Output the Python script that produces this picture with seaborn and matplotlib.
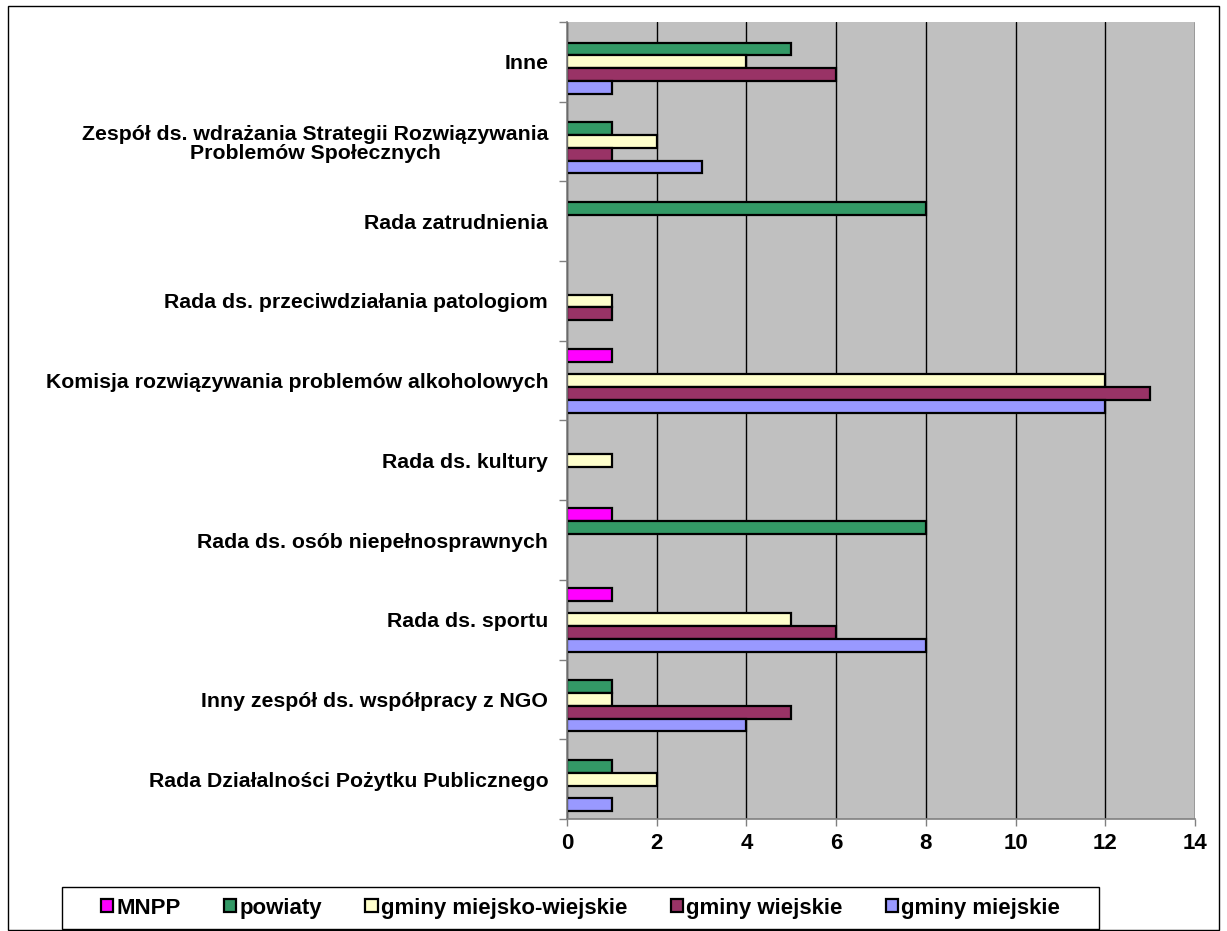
import numpy as np
import pandas as pd
import seaborn as sns
import matplotlib.pyplot as plt
from matplotlib.patches import Rectangle, Patch

categories = [
    "Inne",
    "Zespół ds. wdrażania Strategii Rozwiązywania\nProblemów Społecznych",
    "Rada zatrudnienia",
    "Rada ds. przeciwdziałania patologiom",
    "Komisja rozwiązywania problemów alkoholowych",
    "Rada ds. kultury",
    "Rada ds. osób niepełnosprawnych",
    "Rada ds. sportu",
    "Inny zespół ds. współpracy z NGO",
    "Rada Działalności Pożytku Publicznego",
]
series = ["MNPP", "powiaty", "gminy miejsko-wiejskie", "gminy wiejskie", "gminy miejskie"]
mnpp = [0, 0, 0, 0, 1, 0, 1, 1, 0, 0]
powiaty = [5, 1, 8, 0, 0, 0, 8, 0, 1, 1]
gminy_mw = [4, 2, 0, 1, 12, 1, 0, 5, 1, 2]
gminy_w = [6, 1, 0, 1, 13, 0, 0, 6, 5, 0]
gminy_m = [1, 3, 0, 0, 12, 0, 0, 8, 4, 1]
colors = ["#FF00FF", "#339966", "#FFFFCC", "#993366", "#9999FF"]

rows = []
for name, vals in zip(series, [mnpp, powiaty, gminy_mw, gminy_w, gminy_m]):
    for cat, v in zip(categories, vals):
        rows.append({"Kategoria": cat, "Typ": name, "Liczba": v})
df = pd.DataFrame(rows)

sns.set_theme(style="white", rc={
    "text.color": "black", "axes.labelcolor": "black",
    "xtick.color": "black", "ytick.color": "black",
})
plt.rcParams["font.family"] = ["Liberation Sans", "DejaVu Sans"]

fig = plt.figure(figsize=(12.27, 9.31), dpi=100)
ax = fig.add_axes([0.4621, 0.1203, 0.5118, 0.8561])

sns.barplot(
    data=df, y="Kategoria", x="Liczba", hue="Typ", order=categories,
    hue_order=series, palette=colors, orient="h", width=0.8,
    edgecolor="black", linewidth=1.6, saturation=1, ax=ax, legend=False,
)
# zero values are not drawn in the original
for p in ax.patches:
    if p.get_width() == 0:
        p.set_visible(False)

ax.set_facecolor("#C0C0C0")
ax.set_xlim(0, 14)
ax.set_ylim(len(categories) - 0.5, -0.5)
ax.set_xticks(np.arange(0, 15, 2))
ax.xaxis.grid(True, color="black", linewidth=1)
ax.set_axisbelow(True)
ax.set_xlabel("")
ax.set_ylabel("")
for s in ["top", "right"]:
    ax.spines[s].set_visible(False)
for s in ["left", "bottom"]:
    ax.spines[s].set_color("#808080")
    ax.spines[s].set_linewidth(1.2)

ax.tick_params(axis="x", bottom=True, length=5, width=1, color="#808080",
               labelsize=16, pad=5)
for lbl in ax.get_xticklabels():
    lbl.set_fontweight("bold")
ax.set_yticks(np.arange(len(categories)))
ax.set_yticklabels(categories, fontsize=15.3, fontweight="bold", ha="right",
                   multialignment="center", linespacing=1.0)
ax.tick_params(axis="y", which="major", left=False, pad=7.5)
ax.set_yticks(np.arange(-0.5, len(categories), 1), minor=True)
ax.tick_params(axis="y", which="minor", left=True, length=6, width=1, color="#808080")

# legend box at the bottom
handles = [Patch(facecolor=c, edgecolor="black", linewidth=1.6) for c in colors]
fig.legend(
    handles, series, loc="center", bbox_to_anchor=(0.4731, 0.0247), ncol=5,
    frameon=False, handlelength=0.55, handleheight=0.55, handletextpad=0.15,
    columnspacing=1.95, prop={"weight": "bold", "size": 16}, borderaxespad=0,
)
fig.patches.append(Rectangle((0.0505, 0.002), 0.8452, 0.0453, transform=fig.transFigure,
                             fill=False, edgecolor="black", linewidth=1))

fig.patches.append(Rectangle((0.0065, 0.001), 0.987, 0.9925, transform=fig.transFigure,
                             fill=False, edgecolor="black", linewidth=1))

fig.savefig("out.png", dpi=100)
